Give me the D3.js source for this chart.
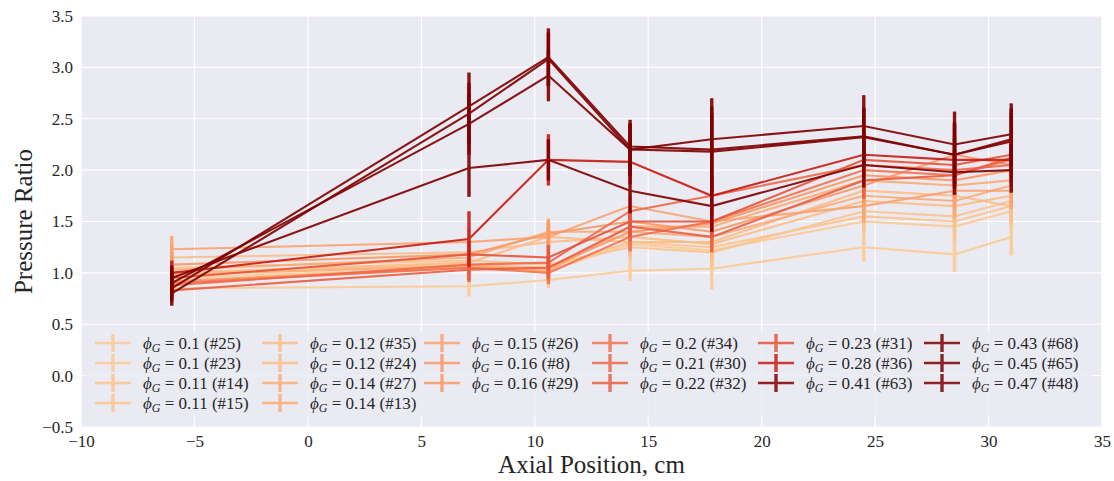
<!DOCTYPE html>
<html>
<head>
<meta charset="utf-8">
<script src="https://cdn.jsdelivr.net/npm/d3@7"></script>
<style>
  body { margin: 0; background: #fff; }
  svg { display: block; font-family: "Liberation Serif", "DejaVu Serif", serif; }
</style>
</head>
<body>
<svg id="chart" width="1114" height="481"></svg>
<script>
// axial positions of the pressure taps, cm
const positions = [-6, 7.1, 10.6, 14.2, 17.8, 24.5, 28.5, 31.0];

const phiValues = [0.1, 0.1, 0.11, 0.11, 0.12, 0.12, 0.14, 0.14, 0.15, 0.16,
  0.16, 0.2, 0.21, 0.22, 0.23, 0.28, 0.41, 0.43, 0.45, 0.47];
const runIds = [25, 23, 14, 15, 35, 24, 27, 13, 26, 8, 29, 34, 30, 32, 31, 36, 63, 68, 65, 48];

const ratios = [
  [0.85, 0.87, 0.93, 1.02, 1.04, 1.25, 1.18, 1.35],
  [0.95, 1.05, 1.02, 1.28, 1.22, 1.50, 1.45, 1.60],
  [1.00, 1.08, 1.05, 1.30, 1.25, 1.55, 1.50, 1.65],
  [1.05, 1.12, 1.08, 1.25, 1.20, 1.60, 1.55, 1.70],
  [1.15, 1.20, 1.30, 1.35, 1.28, 1.70, 1.65, 1.75],
  [1.00, 1.10, 1.35, 1.30, 1.30, 1.80, 1.75, 1.65],
  [1.03, 1.15, 1.40, 1.40, 1.35, 1.75, 1.70, 1.85],
  [0.98, 1.07, 1.02, 1.45, 1.45, 1.90, 1.85, 1.90],
  [1.23, 1.30, 1.35, 1.65, 1.50, 1.65, 1.80, 1.80],
  [0.92, 1.05, 1.05, 1.40, 1.48, 1.95, 1.90, 2.00],
  [1.08, 1.18, 1.38, 1.50, 1.40, 1.85, 2.15, 2.05],
  [0.90, 1.05, 1.00, 1.35, 1.50, 2.00, 1.95, 2.10],
  [0.88, 1.08, 1.10, 1.60, 1.75, 2.05, 2.00, 2.05],
  [0.83, 1.03, 1.05, 1.45, 1.35, 1.90, 1.95, 2.12],
  [0.95, 1.18, 1.15, 1.50, 1.50, 2.10, 2.05, 2.15],
  [1.00, 1.33, 2.10, 2.08, 1.75, 2.15, 2.10, 2.10],
  [0.95, 2.02, 2.10, 1.80, 1.65, 2.05, 1.98, 2.00],
  [0.85, 2.62, 3.10, 2.23, 2.20, 2.33, 2.15, 2.30],
  [0.80, 2.55, 3.08, 2.20, 2.18, 2.32, 2.15, 2.28],
  [0.90, 2.45, 2.92, 2.20, 2.30, 2.43, 2.25, 2.35]
];

const errors = [
  [0.10, 0.10, 0.08, 0.10, 0.20, 0.14, 0.17, 0.18],
  [0.11, 0.12, 0.10, 0.12, 0.15, 0.14, 0.16, 0.17],
  [0.11, 0.12, 0.10, 0.12, 0.15, 0.15, 0.16, 0.17],
  [0.12, 0.12, 0.10, 0.13, 0.15, 0.15, 0.16, 0.17],
  [0.12, 0.13, 0.12, 0.13, 0.15, 0.16, 0.17, 0.17],
  [0.11, 0.12, 0.12, 0.13, 0.15, 0.16, 0.17, 0.17],
  [0.11, 0.13, 0.13, 0.14, 0.15, 0.16, 0.17, 0.18],
  [0.11, 0.12, 0.10, 0.14, 0.16, 0.17, 0.18, 0.18],
  [0.13, 0.14, 0.13, 0.15, 0.16, 0.16, 0.18, 0.18],
  [0.11, 0.12, 0.11, 0.14, 0.16, 0.18, 0.18, 0.19],
  [0.12, 0.13, 0.13, 0.15, 0.15, 0.18, 0.20, 0.19],
  [0.11, 0.12, 0.11, 0.14, 0.16, 0.19, 0.19, 0.20],
  [0.11, 0.12, 0.12, 0.15, 0.18, 0.19, 0.19, 0.20],
  [0.10, 0.12, 0.11, 0.14, 0.15, 0.18, 0.19, 0.20],
  [0.11, 0.13, 0.12, 0.15, 0.16, 0.19, 0.20, 0.20],
  [0.12, 0.27, 0.25, 0.22, 0.20, 0.22, 0.22, 0.22],
  [0.12, 0.28, 0.20, 0.22, 0.25, 0.22, 0.22, 0.22],
  [0.13, 0.33, 0.28, 0.26, 0.42, 0.28, 0.32, 0.30],
  [0.12, 0.30, 0.26, 0.25, 0.38, 0.27, 0.30, 0.28],
  [0.12, 0.30, 0.25, 0.26, 0.40, 0.30, 0.32, 0.30]
];

const xTicks = [-10, -5, 0, 5, 10, 15, 20, 25, 30, 35];
const yTicks = [-0.5, 0, 0.5, 1, 1.5, 2, 2.5, 3, 3.5];

const svg = d3.select('#chart');
const plot = { left: 81, right: 1102, top: 16, bottom: 427 };

const x = d3.scaleLinear().domain([-10, 35]).range([plot.left, plot.right]);
const y = d3.scaleLinear().domain([-0.5, 3.5]).range([plot.bottom, plot.top]);

// phi -> colour in the OrRd map, everything above ~0.35 is the darkest red
const colorT = d3.scaleLinear().domain([0.1, 0.35]).range([0.3, 1]).clamp(true);
const color = (phi) => d3.interpolateOrRd(colorT(phi));

// background + grid
svg.append('rect')
  .attr('x', plot.left).attr('y', plot.top)
  .attr('width', plot.right - plot.left).attr('height', plot.bottom - plot.top)
  .attr('fill', '#eaeaf2');

const grid = svg.append('g');
grid.selectAll('.gx').data(xTicks).enter().append('line')
  .attr('x1', (d) => x(d)).attr('x2', (d) => x(d))
  .attr('y1', plot.top).attr('y2', plot.bottom)
  .attr('stroke', '#fff').attr('stroke-width', 1.2);
grid.selectAll('.gy').data(yTicks).enter().append('line')
  .attr('x1', plot.left).attr('x2', plot.right)
  .attr('y1', (d) => y(d)).attr('y2', (d) => y(d))
  .attr('stroke', '#fff').attr('stroke-width', 1.2);

// axes (labels only, seaborn darkgrid has no spines / tick marks)
const xAxis = svg.append('g')
  .attr('transform', `translate(0,${plot.bottom})`)
  .call(d3.axisBottom(x).tickValues(xTicks).tickSize(0).tickPadding(8));
const yAxis = svg.append('g')
  .attr('transform', `translate(${plot.left},0)`)
  .call(d3.axisLeft(y).tickValues(yTicks).tickFormat(d3.format('.1f')).tickSize(0).tickPadding(8));
[xAxis, yAxis].forEach((a) => {
  a.select('.domain').remove();
  a.selectAll('text')
    .attr('font-family', '"Liberation Serif", serif')
    .attr('font-size', 17).attr('fill', '#262626');
});

// series: line + vertical error bars
const line = d3.line().x((d) => x(d.x)).y((d) => y(d.v));
const series = phiValues.map((phi, i) => ({
  phi, run: runIds[i], color: color(phi),
  points: positions.map((p, j) => ({ x: p, v: ratios[i][j], e: errors[i][j] }))
}));

const marks = svg.append('g');
series.forEach((s) => {
  const g = marks.append('g').attr('opacity', 0.9);
  g.selectAll('.err').data(s.points).enter().append('line')
    .attr('x1', (d) => x(d.x)).attr('x2', (d) => x(d.x))
    .attr('y1', (d) => y(d.v - d.e)).attr('y2', (d) => y(d.v + d.e))
    .attr('stroke', s.color).attr('stroke-width', 3.4);
  g.append('path')
    .attr('d', line(s.points))
    .attr('fill', 'none')
    .attr('stroke', s.color)
    .attr('stroke-width', 2.1);
});

// legend, 6 columns filled column-wise
const legendCols = [95, 262, 424, 592, 758, 924];
const rowsPerCol = [4, 4, 3, 3, 3, 3];
const legend = svg.append('g');
legend.append('rect')
  .attr('x', 84).attr('y', 331).attr('width', 1008).attr('height', 86)
  .attr('rx', 3)
  .attr('fill', '#eaeaf2').attr('opacity', 0.8);

let k = 0;
rowsPerCol.forEach((n, c) => {
  for (let r = 0; r < n; r++, k++) {
    const s = series[k];
    const lx = legendCols[c];
    const ly = 343 + r * 20;
    const item = legend.append('g').attr('transform', `translate(${lx},${ly})`);
    const h = item.append('g').attr('opacity', 0.85);
    h.append('line').attr('x1', 0).attr('x2', 36).attr('y1', 0).attr('y2', 0)
      .attr('stroke', s.color).attr('stroke-width', 2.4);
    h.append('line').attr('x1', 18).attr('x2', 18).attr('y1', -9).attr('y2', 9)
      .attr('stroke', s.color).attr('stroke-width', 3.4);
    const t = item.append('text')
      .attr('x', 48).attr('y', 6)
      .attr('font-size', 17).attr('fill', '#262626');
    t.append('tspan').attr('font-style', 'italic').text('\u03d5');
    t.append('tspan').attr('font-style', 'italic').attr('font-size', 12).attr('dy', 3).text('G');
    t.append('tspan').attr('dy', -3).text(` = ${s.phi} (#${s.run})`);
  }
});

// axis titles
svg.append('text')
  .attr('x', (plot.left + plot.right) / 2).attr('y', 473)
  .attr('text-anchor', 'middle')
  .attr('font-size', 25).attr('fill', '#262626')
  .text('Axial Position, cm');
svg.append('text')
  .attr('transform', `translate(32,${(plot.top + plot.bottom) / 2}) rotate(-90)`)
  .attr('text-anchor', 'middle')
  .attr('font-size', 25).attr('fill', '#262626')
  .text('Pressure Ratio');
</script>
</body>
</html>
